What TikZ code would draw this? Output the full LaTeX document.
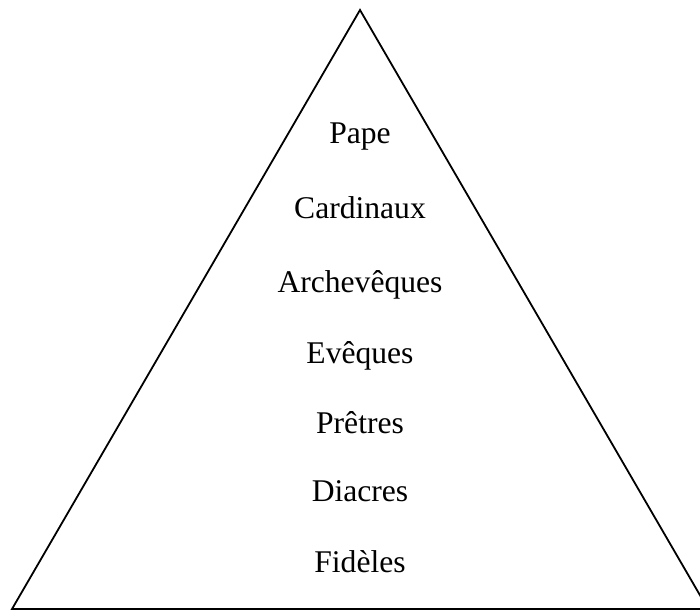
\documentclass[tikz,border=0pt]{standalone}
\usepackage{fontspec}
\setmainfont{Liberation Serif}
\begin{document}
\begin{tikzpicture}[x=1pt,y=-1pt,
  lvl/.style={anchor=base,inner sep=0pt,font=\fontsize{31.6}{38}\selectfont},
  edge/.style={line width=1.8pt,line join=miter}]
\useasboundingbox (0,0) rectangle (700,611);
\coordinate (apex) at (360,10);
\coordinate (bl) at (12,609);
\coordinate (br) at (708,609);
\draw[edge] (apex) -- (bl) -- (br) -- cycle;
\node[lvl] (pape) at (360,143) {Pape};
\node[lvl] (card) at (360,218) {Cardinaux};
\node[lvl] (arch) at (360,292) {Archevêques};
\node[lvl] (ev) at (360,363) {Evêques};
\node[lvl] (pr) at (360,433) {Prêtres};
\node[lvl] (dia) at (360,501) {Diacres};
\node[lvl] (fid) at (360,572) {Fidèles};
\end{tikzpicture}
\end{document}
